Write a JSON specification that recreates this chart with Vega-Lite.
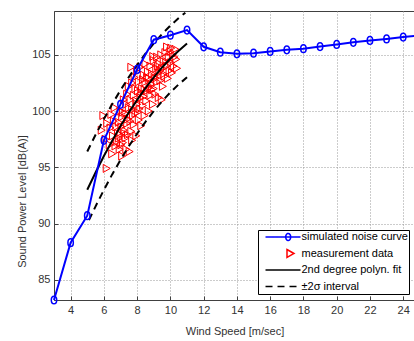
{
  "$schema": "https://vega.github.io/schema/vega-lite/v6.json",
  "width": 361,
  "height": 289,
  "autosize": {"type": "none"},
  "padding": {"left": 54, "top": 11, "right": 0, "bottom": 41},
  "background": "white",
  "config": {
    "font": "Liberation Sans",
    "view": {"stroke": "#404040", "strokeWidth": 1},
    "axis": {
      "labelFont": "Liberation Sans", "labelFontSize": 11, "labelColor": "#333",
      "titleFont": "Liberation Sans", "titleFontSize": 11, "titleFontWeight": "normal", "titleColor": "#333",
      "grid": true, "gridColor": "#999", "gridDash": [1, 2], "gridOpacity": 1,
      "domainColor": "#404040", "tickColor": "#404040", "tickSize": -4, "labelPadding": 8
    },
    "legend": {
      "orient": "none", "legendX": 204, "legendY": 219,
      "symbolSize": 3770, "symbolStrokeWidth": 1.5, "labelOffset": -20.5,
      "clipHeight": 12,
      "labelFont": "Liberation Sans", "labelFontSize": 11, "labelColor": "#000",
      "strokeColor": "#000", "fillColor": "#fff", "padding": 1, "rowPadding": 4.5,
      "labelLimit": 200
    }
  },
  "data": {
    "values": [
      {"series": "simulated noise curve", "part": "a", "x": 3, "y": 83.2},
      {"series": "simulated noise curve", "part": "a", "x": 4, "y": 88.3},
      {"series": "simulated noise curve", "part": "a", "x": 5, "y": 90.7},
      {"series": "simulated noise curve", "part": "a", "x": 6, "y": 97.4},
      {"series": "simulated noise curve", "part": "a", "x": 7, "y": 100.6},
      {"series": "simulated noise curve", "part": "a", "x": 8, "y": 103.7},
      {"series": "simulated noise curve", "part": "a", "x": 9, "y": 106.35},
      {"series": "simulated noise curve", "part": "a", "x": 10, "y": 106.75},
      {"series": "simulated noise curve", "part": "a", "x": 11, "y": 107.2},
      {"series": "simulated noise curve", "part": "a", "x": 12, "y": 105.72},
      {"series": "simulated noise curve", "part": "a", "x": 13, "y": 105.24},
      {"series": "simulated noise curve", "part": "a", "x": 14, "y": 105.09},
      {"series": "simulated noise curve", "part": "a", "x": 15, "y": 105.15},
      {"series": "simulated noise curve", "part": "a", "x": 16, "y": 105.3},
      {"series": "simulated noise curve", "part": "a", "x": 17, "y": 105.45},
      {"series": "simulated noise curve", "part": "a", "x": 18, "y": 105.55},
      {"series": "simulated noise curve", "part": "a", "x": 19, "y": 105.74},
      {"series": "simulated noise curve", "part": "a", "x": 20, "y": 105.93},
      {"series": "simulated noise curve", "part": "a", "x": 21, "y": 106.12},
      {"series": "simulated noise curve", "part": "a", "x": 22, "y": 106.28},
      {"series": "simulated noise curve", "part": "a", "x": 23, "y": 106.42},
      {"series": "simulated noise curve", "part": "a", "x": 24, "y": 106.58},
      {"series": "simulated noise curve", "part": "a", "x": 25, "y": 106.72},

      {"series": "2nd degree polyn. fit", "part": "f", "x": 5, "y": 93.0},
      {"series": "2nd degree polyn. fit", "part": "f", "x": 5.5, "y": 94.54},
      {"series": "2nd degree polyn. fit", "part": "f", "x": 6, "y": 96.0},
      {"series": "2nd degree polyn. fit", "part": "f", "x": 6.5, "y": 97.37},
      {"series": "2nd degree polyn. fit", "part": "f", "x": 7, "y": 98.67},
      {"series": "2nd degree polyn. fit", "part": "f", "x": 7.5, "y": 99.88},
      {"series": "2nd degree polyn. fit", "part": "f", "x": 8, "y": 101.0},
      {"series": "2nd degree polyn. fit", "part": "f", "x": 8.5, "y": 102.04},
      {"series": "2nd degree polyn. fit", "part": "f", "x": 9, "y": 103.0},
      {"series": "2nd degree polyn. fit", "part": "f", "x": 9.5, "y": 103.88},
      {"series": "2nd degree polyn. fit", "part": "f", "x": 10, "y": 104.67},
      {"series": "2nd degree polyn. fit", "part": "f", "x": 10.5, "y": 105.37},
      {"series": "2nd degree polyn. fit", "part": "f", "x": 11, "y": 106.0},

      {"series": "±2σ interval", "part": "u", "x": 5, "y": 96.4},
      {"series": "±2σ interval", "part": "u", "x": 5.5, "y": 97.89},
      {"series": "±2σ interval", "part": "u", "x": 6, "y": 99.29},
      {"series": "±2σ interval", "part": "u", "x": 6.5, "y": 100.62},
      {"series": "±2σ interval", "part": "u", "x": 7, "y": 101.86},
      {"series": "±2σ interval", "part": "u", "x": 7.5, "y": 103.02},
      {"series": "±2σ interval", "part": "u", "x": 8, "y": 104.1},
      {"series": "±2σ interval", "part": "u", "x": 8.5, "y": 105.1},
      {"series": "±2σ interval", "part": "u", "x": 9, "y": 106.02},
      {"series": "±2σ interval", "part": "u", "x": 9.5, "y": 106.85},
      {"series": "±2σ interval", "part": "u", "x": 10, "y": 107.6},
      {"series": "±2σ interval", "part": "u", "x": 10.5, "y": 108.28},
      {"series": "±2σ interval", "part": "u", "x": 10.9, "y": 108.75},
      {"series": "±2σ interval", "part": "l", "x": 5.1, "y": 90.3},
      {"series": "±2σ interval", "part": "l", "x": 5.5, "y": 91.53},
      {"series": "±2σ interval", "part": "l", "x": 6, "y": 92.99},
      {"series": "±2σ interval", "part": "l", "x": 6.5, "y": 94.37},
      {"series": "±2σ interval", "part": "l", "x": 7, "y": 95.66},
      {"series": "±2σ interval", "part": "l", "x": 7.5, "y": 96.87},
      {"series": "±2σ interval", "part": "l", "x": 8, "y": 98.0},
      {"series": "±2σ interval", "part": "l", "x": 8.5, "y": 99.04},
      {"series": "±2σ interval", "part": "l", "x": 9, "y": 100.0},
      {"series": "±2σ interval", "part": "l", "x": 9.5, "y": 100.88},
      {"series": "±2σ interval", "part": "l", "x": 10, "y": 101.67},
      {"series": "±2σ interval", "part": "l", "x": 10.5, "y": 102.38},
      {"series": "±2σ interval", "part": "l", "x": 11, "y": 103.0},

      {"series": "measurement data", "part": "m", "x": 5.87, "y": 98.3},
      {"series": "measurement data", "part": "m", "x": 5.97, "y": 99.6},
      {"series": "measurement data", "part": "m", "x": 6.17, "y": 94.9},
      {"series": "measurement data", "part": "m", "x": 6.1, "y": 97.5},
      {"series": "measurement data", "part": "m", "x": 6.2, "y": 98.9},
      {"series": "measurement data", "part": "m", "x": 6.35, "y": 97.0},
      {"series": "measurement data", "part": "m", "x": 6.4, "y": 98.5},
      {"series": "measurement data", "part": "m", "x": 6.45, "y": 99.7},
      {"series": "measurement data", "part": "m", "x": 6.5, "y": 96.2},
      {"series": "measurement data", "part": "m", "x": 6.55, "y": 97.8},
      {"series": "measurement data", "part": "m", "x": 6.6, "y": 99.1},
      {"series": "measurement data", "part": "m", "x": 6.65, "y": 100.3},
      {"series": "measurement data", "part": "m", "x": 6.7, "y": 96.9},
      {"series": "measurement data", "part": "m", "x": 6.75, "y": 98.6},
      {"series": "measurement data", "part": "m", "x": 6.8, "y": 97.3},
      {"series": "measurement data", "part": "m", "x": 6.85, "y": 98.0},
      {"series": "measurement data", "part": "m", "x": 6.9, "y": 99.0},
      {"series": "measurement data", "part": "m", "x": 6.9, "y": 97.6},
      {"series": "measurement data", "part": "m", "x": 6.95, "y": 96.6},
      {"series": "measurement data", "part": "m", "x": 7.0, "y": 97.9},
      {"series": "measurement data", "part": "m", "x": 7.0, "y": 100.0},
      {"series": "measurement data", "part": "m", "x": 7.05, "y": 98.6},
      {"series": "measurement data", "part": "m", "x": 7.05, "y": 97.0},
      {"series": "measurement data", "part": "m", "x": 7.1, "y": 96.0},
      {"series": "measurement data", "part": "m", "x": 7.1, "y": 99.5},
      {"series": "measurement data", "part": "m", "x": 7.15, "y": 97.2},
      {"series": "measurement data", "part": "m", "x": 7.15, "y": 99.9},
      {"series": "measurement data", "part": "m", "x": 7.2, "y": 98.3},
      {"series": "measurement data", "part": "m", "x": 7.2, "y": 101.0},
      {"series": "measurement data", "part": "m", "x": 7.25, "y": 98.0},
      {"series": "measurement data", "part": "m", "x": 7.3, "y": 97.6},
      {"series": "measurement data", "part": "m", "x": 7.3, "y": 99.8},
      {"series": "measurement data", "part": "m", "x": 7.35, "y": 96.6},
      {"series": "measurement data", "part": "m", "x": 7.35, "y": 100.6},
      {"series": "measurement data", "part": "m", "x": 7.4, "y": 98.9},
      {"series": "measurement data", "part": "m", "x": 7.4, "y": 101.5},
      {"series": "measurement data", "part": "m", "x": 7.45, "y": 97.9},
      {"series": "measurement data", "part": "m", "x": 7.45, "y": 99.3},
      {"series": "measurement data", "part": "m", "x": 7.5, "y": 100.3},
      {"series": "measurement data", "part": "m", "x": 7.5, "y": 102.2},
      {"series": "measurement data", "part": "m", "x": 7.55, "y": 96.4},
      {"series": "measurement data", "part": "m", "x": 7.6, "y": 99.1},
      {"series": "measurement data", "part": "m", "x": 7.6, "y": 101.0},
      {"series": "measurement data", "part": "m", "x": 7.65, "y": 103.9},
      {"series": "measurement data", "part": "m", "x": 7.65, "y": 98.2},
      {"series": "measurement data", "part": "m", "x": 7.7, "y": 97.4},
      {"series": "measurement data", "part": "m", "x": 7.7, "y": 100.1},
      {"series": "measurement data", "part": "m", "x": 7.7, "y": 102.5},
      {"series": "measurement data", "part": "m", "x": 7.75, "y": 99.6},
      {"series": "measurement data", "part": "m", "x": 7.8, "y": 98.8},
      {"series": "measurement data", "part": "m", "x": 7.8, "y": 101.4},
      {"series": "measurement data", "part": "m", "x": 7.85, "y": 103.0},
      {"series": "measurement data", "part": "m", "x": 7.9, "y": 99.8},
      {"series": "measurement data", "part": "m", "x": 7.9, "y": 102.0},
      {"series": "measurement data", "part": "m", "x": 7.95, "y": 97.8},
      {"series": "measurement data", "part": "m", "x": 7.95, "y": 100.9},
      {"series": "measurement data", "part": "m", "x": 8.0, "y": 100.6},
      {"series": "measurement data", "part": "m", "x": 8.0, "y": 103.5},
      {"series": "measurement data", "part": "m", "x": 8.05, "y": 101.8},
      {"series": "measurement data", "part": "m", "x": 8.05, "y": 99.9},
      {"series": "measurement data", "part": "m", "x": 8.1, "y": 99.2},
      {"series": "measurement data", "part": "m", "x": 8.1, "y": 102.6},
      {"series": "measurement data", "part": "m", "x": 8.15, "y": 100.2},
      {"series": "measurement data", "part": "m", "x": 8.2, "y": 101.2},
      {"series": "measurement data", "part": "m", "x": 8.2, "y": 103.9},
      {"series": "measurement data", "part": "m", "x": 8.25, "y": 98.7},
      {"series": "measurement data", "part": "m", "x": 8.25, "y": 101.6},
      {"series": "measurement data", "part": "m", "x": 8.3, "y": 102.0},
      {"series": "measurement data", "part": "m", "x": 8.35, "y": 100.5},
      {"series": "measurement data", "part": "m", "x": 8.35, "y": 102.8},
      {"series": "measurement data", "part": "m", "x": 8.4, "y": 103.2},
      {"series": "measurement data", "part": "m", "x": 8.4, "y": 101.3},
      {"series": "measurement data", "part": "m", "x": 8.45, "y": 99.6},
      {"series": "measurement data", "part": "m", "x": 8.45, "y": 101.9},
      {"series": "measurement data", "part": "m", "x": 8.5, "y": 102.6},
      {"series": "measurement data", "part": "m", "x": 8.5, "y": 104.2},
      {"series": "measurement data", "part": "m", "x": 8.55, "y": 100.9},
      {"series": "measurement data", "part": "m", "x": 8.6, "y": 101.8},
      {"series": "measurement data", "part": "m", "x": 8.6, "y": 103.0},
      {"series": "measurement data", "part": "m", "x": 8.65, "y": 103.5},
      {"series": "measurement data", "part": "m", "x": 8.7, "y": 100.0},
      {"series": "measurement data", "part": "m", "x": 8.7, "y": 102.9},
      {"series": "measurement data", "part": "m", "x": 8.75, "y": 102.1},
      {"series": "measurement data", "part": "m", "x": 8.8, "y": 101.4},
      {"series": "measurement data", "part": "m", "x": 8.8, "y": 104.0},
      {"series": "measurement data", "part": "m", "x": 8.85, "y": 102.4},
      {"series": "measurement data", "part": "m", "x": 8.9, "y": 103.3},
      {"series": "measurement data", "part": "m", "x": 8.9, "y": 101.9},
      {"series": "measurement data", "part": "m", "x": 8.95, "y": 100.6},
      {"series": "measurement data", "part": "m", "x": 8.97, "y": 104.85},
      {"series": "measurement data", "part": "m", "x": 9.0, "y": 102.0},
      {"series": "measurement data", "part": "m", "x": 9.0, "y": 104.5},
      {"series": "measurement data", "part": "m", "x": 9.05, "y": 103.0},
      {"series": "measurement data", "part": "m", "x": 9.1, "y": 101.5},
      {"series": "measurement data", "part": "m", "x": 9.1, "y": 102.9},
      {"series": "measurement data", "part": "m", "x": 9.15, "y": 103.8},
      {"series": "measurement data", "part": "m", "x": 9.2, "y": 102.6},
      {"series": "measurement data", "part": "m", "x": 9.2, "y": 104.8},
      {"series": "measurement data", "part": "m", "x": 9.25, "y": 104.0},
      {"series": "measurement data", "part": "m", "x": 9.3, "y": 103.4},
      {"series": "measurement data", "part": "m", "x": 9.3, "y": 101.2},
      {"series": "measurement data", "part": "m", "x": 9.35, "y": 104.2},
      {"series": "measurement data", "part": "m", "x": 9.4, "y": 102.7},
      {"series": "measurement data", "part": "m", "x": 9.4, "y": 103.6},
      {"series": "measurement data", "part": "m", "x": 9.45, "y": 105.0},
      {"series": "measurement data", "part": "m", "x": 9.48, "y": 101.0},
      {"series": "measurement data", "part": "m", "x": 9.5, "y": 103.8},
      {"series": "measurement data", "part": "m", "x": 9.55, "y": 102.2},
      {"series": "measurement data", "part": "m", "x": 9.6, "y": 104.4},
      {"series": "measurement data", "part": "m", "x": 9.6, "y": 103.3},
      {"series": "measurement data", "part": "m", "x": 9.65, "y": 103.1},
      {"series": "measurement data", "part": "m", "x": 9.7, "y": 105.2},
      {"series": "measurement data", "part": "m", "x": 9.75, "y": 104.4},
      {"series": "measurement data", "part": "m", "x": 9.8, "y": 104.0},
      {"series": "measurement data", "part": "m", "x": 9.8, "y": 105.7},
      {"series": "measurement data", "part": "m", "x": 9.85, "y": 102.9},
      {"series": "measurement data", "part": "m", "x": 9.9, "y": 104.8},
      {"series": "measurement data", "part": "m", "x": 9.95, "y": 103.6},
      {"series": "measurement data", "part": "m", "x": 10.0, "y": 105.3},
      {"series": "measurement data", "part": "m", "x": 10.05, "y": 104.3},
      {"series": "measurement data", "part": "m", "x": 10.05, "y": 105.6},
      {"series": "measurement data", "part": "m", "x": 10.1, "y": 103.4},
      {"series": "measurement data", "part": "m", "x": 10.15, "y": 105.0},
      {"series": "measurement data", "part": "m", "x": 10.2, "y": 104.0},
      {"series": "measurement data", "part": "m", "x": 10.25, "y": 104.8},
      {"series": "measurement data", "part": "m", "x": 10.3, "y": 105.5},
      {"series": "measurement data", "part": "m", "x": 10.35, "y": 104.6},
      {"series": "measurement data", "part": "m", "x": 10.4, "y": 103.8}
    ]
  },
  "encoding": {
    "x": {
      "field": "x", "type": "quantitative",
      "scale": {"domain": [3, 24.71], "nice": false, "zero": false},
      "axis": {"values": [4, 6, 8, 10, 12, 14, 16, 18, 20, 22, 24], "title": "Wind Speed [m/sec]", "titlePadding": 10}
    },
    "y": {
      "field": "y", "type": "quantitative",
      "scale": {"domain": [83.2, 108.9], "nice": false, "zero": false},
      "axis": {"values": [85, 90, 95, 100, 105], "title": "Sound Power Level [dB(A)]", "titleY": 190}
    },
    "color": {
      "field": "series", "type": "nominal",
      "scale": {
        "domain": ["simulated noise curve", "measurement data", "2nd degree polyn. fit", "±2σ interval"],
        "range": ["#0000ff", "#ff0000", "#000000", "#000000"]
      },
      "legend": {"title": null}
    }
  },
  "layer": [
    {
      "transform": [{"filter": "datum.series === 'measurement data'"}],
      "mark": {"type": "point", "filled": false, "size": 3770, "strokeWidth": 1, "opacity": 1},
      "encoding": {
        "shape": {
          "field": "series", "type": "nominal",
          "scale": {
            "domain": ["simulated noise curve", "measurement data", "2nd degree polyn. fit", "±2σ interval"],
            "range": [
              "M-0.814,0H0.326M-0.075,-0.114A0.081,0.114,0,1,1,-0.075,0.114A0.081,0.114,0,1,1,-0.075,-0.114",
              "M-0.114,-0.13L0.114,0L-0.114,0.13Z",
              "M-0.814,0H0.326",
              "M-0.814,0H0.326"
            ]
          },
          "legend": {"title": null}
        }
      }
    },
    {
      "transform": [{"filter": "datum.series === '±2σ interval'"}],
      "mark": {"type": "line", "strokeWidth": 2},
      "encoding": {
        "detail": {"field": "part", "type": "nominal"},
        "strokeDash": {
          "field": "series", "type": "nominal",
          "scale": {
            "domain": ["simulated noise curve", "measurement data", "2nd degree polyn. fit", "±2σ interval"],
            "range": [[1, 0], [1, 0], [1, 0], [7, 5]]
          },
          "legend": {"title": null}
        }
      }
    },
    {
      "transform": [{"filter": "datum.series === '2nd degree polyn. fit'"}],
      "mark": {"type": "line", "strokeWidth": 2}
    },
    {
      "transform": [{"filter": "datum.series === 'simulated noise curve'"}],
      "mark": {
        "type": "line", "strokeWidth": 2,
        "point": {"shape": "M0,-1A0.7,1,0,1,1,0,1A0.7,1,0,1,1,0,-1", "filled": false, "size": 60, "strokeWidth": 1.5}
      }
    }
  ]
}
